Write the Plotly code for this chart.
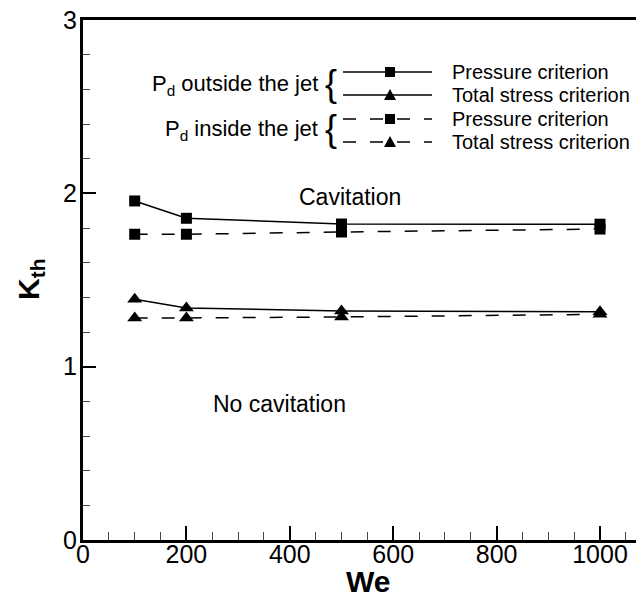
import plotly.graph_objects as go

# ---------------- data ----------------
we = [100, 200, 500, 1000]
p_out_pressure = [1.956, 1.856, 1.823, 1.822]
p_out_stress = [1.389, 1.339, 1.321, 1.317]
p_in_pressure = [1.764, 1.764, 1.777, 1.794]
p_in_stress = [1.281, 1.281, 1.287, 1.302]

x_ticks = [0, 200, 400, 600, 800, 1000]
y_ticks = [0, 1, 2, 3]

legend_groups = ["P<sub>d</sub> outside the jet", "P<sub>d</sub> inside the jet"]
legend_items = ["Pressure criterion", "Total stress criterion",
                "Pressure criterion", "Total stress criterion"]
region_labels = ["Cavitation", "No cavitation"]
x_title = "<b>We</b>"
y_title = "<b>K<sub>th</sub></b>"

# ---------------- layout constants (pixels) ----------------
OFF = 8                      # page body margin
W, H = 644 - OFF, 597 - OFF
ML, MR, MT = 75, 0, 12
MB = H - 532
PW, PH = W - ML - MR, H - MT - MB
FONT = "Liberation Sans, Arial, Helvetica, sans-serif"
DASH = "13px,14px"


def px(xs):
    """screen x pixel -> paper fraction"""
    return (xs - OFF - ML) / PW


def py(ys):
    """screen y pixel -> paper fraction"""
    return (H - MB - (ys - OFF)) / PH


fig = go.Figure()

series = [
    (p_out_pressure, "solid", "square", 11),
    (p_out_stress, "solid", "triangle-up", 13),
    (p_in_pressure, DASH, "square", 11),
    (p_in_stress, DASH, "triangle-up", 13),
]
for ys, dash, sym, size in series:
    fig.add_trace(go.Scatter(
        x=we, y=ys, mode="lines+markers",
        line=dict(color="black", width=1.5, dash=dash),
        marker=dict(symbol=sym, size=size, color="black", line=dict(width=0)),
        showlegend=False, cliponaxis=False,
    ))

shapes = []
annotations = []

# legend samples
row_y = [72, 95, 119, 142]
dashes = ["solid", "solid", DASH, DASH]
syms = ["square", "triangle", "square", "triangle"]
x0l, x1l, xm = 343, 432, 390
for ry, d, s, label in zip(row_y, dashes, syms, legend_items):
    shapes.append(dict(type="line", xref="paper", yref="paper",
                       x0=px(x0l), x1=px(x1l), y0=py(ry), y1=py(ry),
                       line=dict(color="black", width=1.5, dash=d)))
    if s == "square":
        shapes.append(dict(type="rect", xref="paper", yref="paper",
                           x0=px(xm - 5), x1=px(xm + 5), y0=py(ry - 5), y1=py(ry + 5),
                           fillcolor="black", line=dict(width=0)))
    else:
        path = "M {} {} L {} {} L {} {} Z".format(
            px(xm - 6), py(ry + 5), px(xm + 6), py(ry + 5), px(xm), py(ry - 6))
        shapes.append(dict(type="path", xref="paper", yref="paper", path=path,
                           fillcolor="black", line=dict(width=0)))
    annotations.append(dict(xref="paper", yref="paper", x=px(450), y=py(ry),
                            text=label, showarrow=False, xanchor="left", yanchor="middle",
                            font=dict(family=FONT, size=20, color="black")))

for gy, glabel in zip([85, 130], legend_groups):
    annotations.append(dict(xref="paper", yref="paper", x=px(320), y=py(gy),
                            text=glabel, showarrow=False, xanchor="right", yanchor="middle",
                            font=dict(family=FONT, size=22, color="black")))
    annotations.append(dict(xref="paper", yref="paper", x=px(331), y=py(gy - 2),
                            text="{", showarrow=False, xanchor="center", yanchor="middle",
                            font=dict(family=FONT, size=36, color="black")))

annotations.append(dict(xref="paper", yref="paper", x=px(350), y=py(197),
                        text=region_labels[0], showarrow=False, xanchor="center", yanchor="middle",
                        font=dict(family=FONT, size=23, color="black")))
annotations.append(dict(xref="paper", yref="paper", x=px(279), y=py(404),
                        text=region_labels[1], showarrow=False, xanchor="center", yanchor="middle",
                        font=dict(family=FONT, size=23, color="black")))

# axis titles
annotations.append(dict(xref="paper", yref="paper", x=px(368), y=py(581),
                        text=x_title, showarrow=False, xanchor="center", yanchor="middle",
                        font=dict(family=FONT, size=30, color="black")))
annotations.append(dict(xref="paper", yref="paper", x=px(30), y=py(279),
                        text=y_title, showarrow=False, xanchor="center", yanchor="middle",
                        textangle=-90,
                        font=dict(family=FONT, size=30, color="black")))

fig.update_layout(
    width=W, height=H,
    margin=dict(l=ML, r=MR, t=MT, b=MB, pad=0),
    paper_bgcolor="white", plot_bgcolor="white",
    font=dict(family=FONT, color="black"),
    shapes=shapes, annotations=annotations,
    xaxis=dict(
        range=[0, PW / ((600 - OFF - ML) / 1000)],
        tickvals=x_ticks, ticktext=[str(v) for v in x_ticks],
        ticks="inside", ticklen=14, tickwidth=2, tickcolor="black",
        minor=dict(dtick=50, ticks="inside", ticklen=8, tickwidth=1, tickcolor="#444"),
        showline=True, linewidth=3, linecolor="black", mirror=True,
        showgrid=False, zeroline=False,
        tickfont=dict(family=FONT, size=25, color="black"),
        ticklabelstandoff=-10, ticklabeloverflow="allow",
        automargin=False,
    ),
    yaxis=dict(
        range=[0, 3],
        tickvals=y_ticks, ticktext=[str(v) for v in y_ticks],
        ticks="inside", ticklen=13, tickwidth=2, tickcolor="black",
        minor=dict(dtick=0.2, ticks="inside", ticklen=7, tickwidth=1, tickcolor="#444"),
        showline=True, linewidth=3, linecolor="black", mirror=False,
        showgrid=False, zeroline=False,
        tickfont=dict(family=FONT, size=25, color="black"),
        ticklabelstandoff=-2, ticklabeloverflow="allow",
        automargin=False,
    ),
)

fig.write_html("out.html")
